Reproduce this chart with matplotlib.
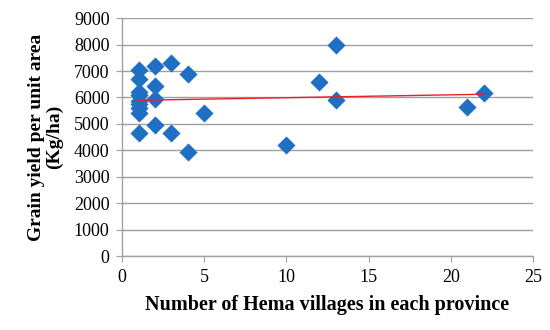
import matplotlib
matplotlib.use("Agg")
import matplotlib.pyplot as plt
import numpy as np

villages = [1, 1, 1, 1, 1, 1, 1, 1, 1,
            2, 2, 2, 2,
            3, 3,
            4, 4,
            5, 10, 12, 13, 13, 21, 22]
yield_kg = [7050, 6700, 6200, 6100, 5850, 5750, 5600, 5400, 4650,
            7200, 6450, 5950, 4950,
            7300, 4650,
            6900, 3950,
            5400, 4200, 6600, 8000, 5900, 5650, 6150]

x_ticks = [0, 5, 10, 15, 20, 25]
y_ticks = [0, 1000, 2000, 3000, 4000, 5000, 6000, 7000, 8000, 9000]

plt.rcParams['font.family'] = ['Liberation Serif', 'DejaVu Serif']

fig = plt.figure(figsize=(5.5, 3.3), dpi=100)
ax = fig.add_axes([0.222, 0.224, 0.747, 0.721])

ax.scatter(villages, yield_kg, marker='D', s=85, color='#1F6FC5', zorder=3, linewidths=0)

xv = np.array(villages, dtype=float)
yv = np.array(yield_kg, dtype=float)
m, b = np.polyfit(xv, yv, 1)
xl = np.array([xv.min(), xv.max()])
ax.plot(xl, m * xl + b, color='#E8202A', lw=1.0, zorder=4)

ax.set_xlim(0, 25)
ax.set_ylim(0, 9000)
ax.set_xticks(x_ticks)
ax.set_yticks(y_ticks)
ax.yaxis.grid(True, color='#A0A0A0', lw=1.0)
ax.set_axisbelow(True)
for s in ['top', 'right']:
    ax.spines[s].set_visible(False)
for s in ['left', 'bottom']:
    ax.spines[s].set_color('#A0A0A0')
    ax.spines[s].set_linewidth(1.0)
ax.tick_params(axis='both', colors='#A0A0A0', labelcolor='black', labelsize=13, length=4, direction='out', pad=5)

ax.set_xlabel('Number of Hema villages in each province', fontsize=14.5, fontweight='bold', labelpad=7)
ax.set_ylabel('Grain yield per unit area\n(Kg/ha)', fontsize=14, fontweight='bold', labelpad=8, linespacing=1.0)

fig.savefig('out.png', dpi=100)
